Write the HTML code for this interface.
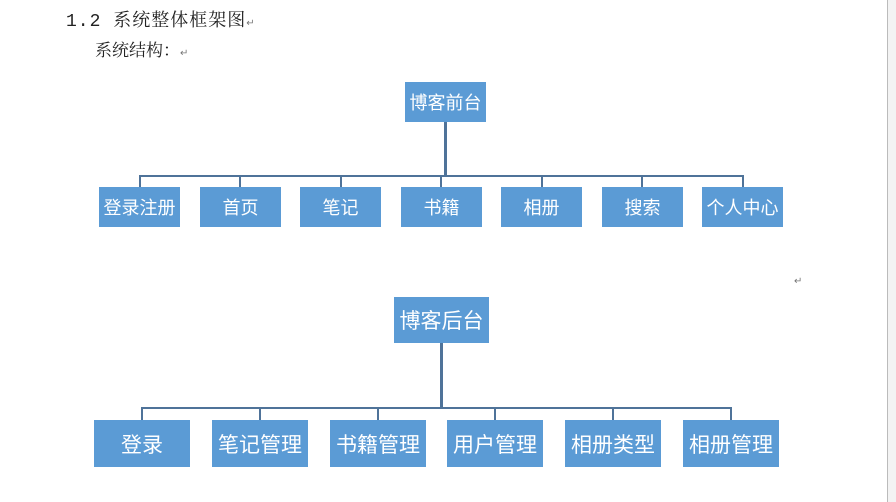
<!DOCTYPE html>
<html><head><meta charset="utf-8"><style>
body{margin:0;width:896px;height:502px;background:#fff;position:relative;overflow:hidden;font-family:"Liberation Sans","Noto Sans CJK SC",sans-serif;}
.b{position:absolute;background:#5b9bd5;color:#fff;display:flex;align-items:center;justify-content:center;white-space:nowrap;letter-spacing:0px}
.s{font-size:18px}.l{font-size:21px}
.ln{position:absolute;background:#4f7399}
.t{position:absolute;color:#222;white-space:nowrap;font-family:"Liberation Mono","Noto Serif CJK SC",serif}
.pm{font-size:10px;color:#777}
</style></head><body>
<div style="position:absolute;left:887px;top:0;width:1px;height:502px;background:#bbb"></div>
<div style="position:absolute;left:888px;top:0;width:8px;height:502px;background:#f3f3f3"></div>
<div class="t" style="left:66px;top:6px;font-size:18px;letter-spacing:1px">1.2 系统整体框架图<span class="pm">↵</span></div>
<div class="t" style="left:95px;top:36px;font-size:17px">系统结构：<span class="pm">↵</span></div>
<div class="t pm" style="left:794px;top:276px">↵</div>

<div class="b s" style="left:405px;top:82px;width:81px;height:40px">博客前台</div>
<div class="ln" style="left:444px;top:122px;width:3px;height:55px"></div>
<div class="ln" style="left:139px;top:175px;width:605px;height:2px"></div>
<div class="ln" style="left:139px;top:175px;width:2px;height:12px"></div>
<div class="ln" style="left:239px;top:175px;width:2px;height:12px"></div>
<div class="ln" style="left:340px;top:175px;width:2px;height:12px"></div>
<div class="ln" style="left:440px;top:175px;width:2px;height:12px"></div>
<div class="ln" style="left:541px;top:175px;width:2px;height:12px"></div>
<div class="ln" style="left:641px;top:175px;width:2px;height:12px"></div>
<div class="ln" style="left:742px;top:175px;width:2px;height:12px"></div>
<div class="b s" style="left:99px;top:187px;width:81px;height:40px">登录注册</div>
<div class="b s" style="left:200px;top:187px;width:81px;height:40px">首页</div>
<div class="b s" style="left:300px;top:187px;width:81px;height:40px">笔记</div>
<div class="b s" style="left:401px;top:187px;width:81px;height:40px">书籍</div>
<div class="b s" style="left:501px;top:187px;width:81px;height:40px">相册</div>
<div class="b s" style="left:602px;top:187px;width:81px;height:40px">搜索</div>
<div class="b s" style="left:702px;top:187px;width:81px;height:40px">个人中心</div>

<div class="b l" style="left:394px;top:297px;width:95px;height:46px">博客后台</div>
<div class="ln" style="left:440px;top:343px;width:3px;height:66px"></div>
<div class="ln" style="left:141px;top:407px;width:591px;height:2px"></div>
<div class="ln" style="left:141px;top:407px;width:2px;height:13px"></div>
<div class="ln" style="left:259px;top:407px;width:2px;height:13px"></div>
<div class="ln" style="left:377px;top:407px;width:2px;height:13px"></div>
<div class="ln" style="left:494px;top:407px;width:2px;height:13px"></div>
<div class="ln" style="left:612px;top:407px;width:2px;height:13px"></div>
<div class="ln" style="left:730px;top:407px;width:2px;height:13px"></div>
<div class="b l" style="left:94px;top:420px;width:96px;height:47px">登录</div>
<div class="b l" style="left:212px;top:420px;width:96px;height:47px">笔记管理</div>
<div class="b l" style="left:330px;top:420px;width:96px;height:47px">书籍管理</div>
<div class="b l" style="left:447px;top:420px;width:96px;height:47px">用户管理</div>
<div class="b l" style="left:565px;top:420px;width:96px;height:47px">相册类型</div>
<div class="b l" style="left:683px;top:420px;width:96px;height:47px">相册管理</div>
</body></html>
